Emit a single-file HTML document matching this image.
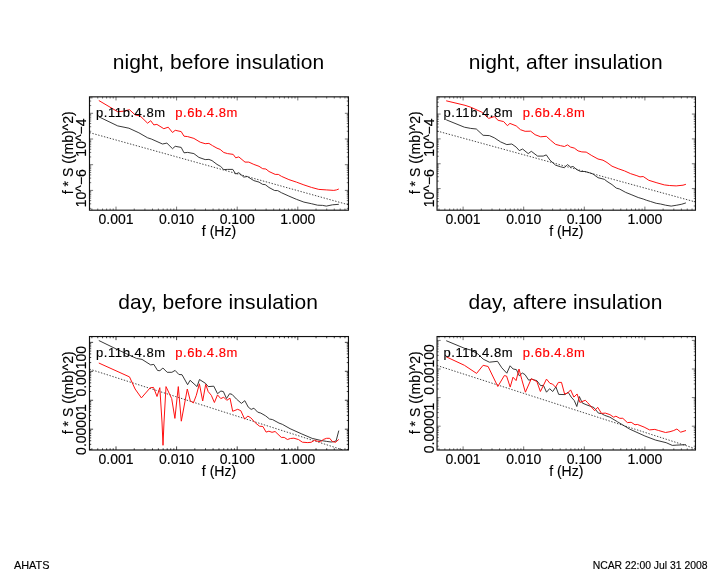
<!DOCTYPE html>
<html><head><meta charset="utf-8"><title>AHATS spectra</title>
<style>
html,body{margin:0;padding:0;background:#fff;}
body{width:722px;height:572px;overflow:hidden;font-family:"Liberation Sans", sans-serif;}
svg{display:block;font-family:"Liberation Sans", sans-serif;will-change:transform;}
text{fill:#000;font-family:"Liberation Sans", sans-serif;stroke:#000;stroke-width:0.15px;}
.t{stroke:none;}
.r{fill:#ff0000;stroke:#ff0000;}
</style></head>
<body>
<svg width="722" height="572" viewBox="0 0 722 572">
<rect width="722" height="572" fill="#fff"/>
<text x="218.47" y="69.30" font-size="21" class="t" text-anchor="middle">night, before insulation</text>
<path d="M89.50 132.60 L348.50 204.80" fill="none" stroke="#333" stroke-linejoin="round" stroke-dasharray="1.4 1.6" stroke-width="0.9"/>
<path d="M98.80 116.80 L117.70 125.90 L128.90 128.20 L138.90 132.80 L147.60 137.80 L151.30 139.00 L162.50 144.00 L166.90 143.10 L172.50 148.70 L175.20 146.30 L181.20 147.40 L184.00 152.80 L187.70 152.40 L193.90 153.60 L198.90 157.40 L205.20 159.60 L208.90 159.40 L212.00 160.60 L217.00 164.40 L220.70 166.50 L223.80 169.60 L227.60 169.40 L232.80 169.40 L235.70 174.00 L238.80 172.70 L243.80 177.10 L247.30 176.50 L253.80 180.60 L259.00 182.10 L262.70 184.40 L265.20 184.60 L269.00 187.50 L274.60 190.50 L277.70 190.60 L281.40 192.70 L288.90 196.10 L296.40 199.30 L303.90 202.10 L311.40 203.70 L317.60 205.20 L322.60 205.40 L326.30 206.10 L332.50 204.80 L338.80 204.30" fill="none" stroke="#222" stroke-linejoin="round" stroke-width="0.9"/>
<path d="M98.80 100.50 L117.70 111.70 L123.30 111.20 L129.50 109.70 L135.10 114.90 L140.10 115.90 L147.60 123.20 L150.70 120.70 L153.80 124.90 L156.90 124.40 L163.80 128.70 L168.20 127.20 L172.50 132.50 L175.20 130.30 L181.20 131.60 L184.00 136.20 L187.70 136.60 L193.90 138.40 L200.20 142.20 L205.20 143.70 L208.90 143.40 L212.60 145.70 L217.00 148.20 L220.10 149.40 L223.80 152.50 L227.60 153.60 L233.20 154.40 L235.70 157.80 L238.80 156.90 L245.00 162.10 L248.80 162.10 L253.80 164.40 L259.00 166.30 L262.70 168.70 L265.90 169.00 L269.00 171.50 L275.20 174.40 L278.30 174.40 L281.40 176.30 L288.90 179.60 L296.40 182.10 L303.90 184.90 L311.40 187.40 L318.80 189.40 L326.30 189.90 L333.80 190.40 L336.50 189.90 L338.80 189.00" fill="none" stroke="#ff1010" stroke-linejoin="round" stroke-width="1"/>
<rect x="89.5" y="96.85" width="258.95" height="113.35" fill="none" stroke="#111" stroke-width="1.15"/>
<path d="M91.88 210.2 v-1.7 M91.88 96.85 v1.7 M97.76 210.2 v-1.7 M97.76 96.85 v1.7 M102.56 210.2 v-1.7 M102.56 96.85 v1.7 M106.61 210.2 v-1.7 M106.61 96.85 v1.7 M110.13 210.2 v-1.7 M110.13 96.85 v1.7 M113.23 210.2 v-1.7 M113.23 96.85 v1.7 M116.00 210.2 v-3.6 M116.00 96.85 v3.6 M134.24 210.2 v-1.7 M134.24 96.85 v1.7 M144.91 210.2 v-1.7 M144.91 96.85 v1.7 M152.48 210.2 v-1.7 M152.48 96.85 v1.7 M158.36 210.2 v-1.7 M158.36 96.85 v1.7 M163.16 210.2 v-1.7 M163.16 96.85 v1.7 M167.21 210.2 v-1.7 M167.21 96.85 v1.7 M170.73 210.2 v-1.7 M170.73 96.85 v1.7 M173.83 210.2 v-1.7 M173.83 96.85 v1.7 M176.60 210.2 v-3.6 M176.60 96.85 v3.6 M194.84 210.2 v-1.7 M194.84 96.85 v1.7 M205.51 210.2 v-1.7 M205.51 96.85 v1.7 M213.08 210.2 v-1.7 M213.08 96.85 v1.7 M218.96 210.2 v-1.7 M218.96 96.85 v1.7 M223.76 210.2 v-1.7 M223.76 96.85 v1.7 M227.81 210.2 v-1.7 M227.81 96.85 v1.7 M231.33 210.2 v-1.7 M231.33 96.85 v1.7 M234.43 210.2 v-1.7 M234.43 96.85 v1.7 M237.20 210.2 v-3.6 M237.20 96.85 v3.6 M255.44 210.2 v-1.7 M255.44 96.85 v1.7 M266.11 210.2 v-1.7 M266.11 96.85 v1.7 M273.68 210.2 v-1.7 M273.68 96.85 v1.7 M279.56 210.2 v-1.7 M279.56 96.85 v1.7 M284.36 210.2 v-1.7 M284.36 96.85 v1.7 M288.41 210.2 v-1.7 M288.41 96.85 v1.7 M291.93 210.2 v-1.7 M291.93 96.85 v1.7 M295.03 210.2 v-1.7 M295.03 96.85 v1.7 M297.80 210.2 v-3.6 M297.80 96.85 v3.6 M316.04 210.2 v-1.7 M316.04 96.85 v1.7 M326.71 210.2 v-1.7 M326.71 96.85 v1.7 M334.28 210.2 v-1.7 M334.28 96.85 v1.7 M340.16 210.2 v-1.7 M340.16 96.85 v1.7 M344.96 210.2 v-1.7 M344.96 96.85 v1.7 M89.5 208.36 h1.7 M348.45 208.36 h-1.7 M89.5 203.84 h1.7 M348.45 203.84 h-1.7 M89.5 200.63 h1.7 M348.45 200.63 h-1.7 M89.5 198.14 h1.7 M348.45 198.14 h-1.7 M89.5 196.10 h1.7 M348.45 196.10 h-1.7 M89.5 194.38 h1.7 M348.45 194.38 h-1.7 M89.5 192.89 h1.7 M348.45 192.89 h-1.7 M89.5 191.58 h1.7 M348.45 191.58 h-1.7 M89.5 190.40 h3.6 M348.45 190.40 h-3.6 M89.5 182.66 h1.7 M348.45 182.66 h-1.7 M89.5 178.14 h1.7 M348.45 178.14 h-1.7 M89.5 174.93 h1.7 M348.45 174.93 h-1.7 M89.5 172.44 h1.7 M348.45 172.44 h-1.7 M89.5 170.40 h1.7 M348.45 170.40 h-1.7 M89.5 168.68 h1.7 M348.45 168.68 h-1.7 M89.5 167.19 h1.7 M348.45 167.19 h-1.7 M89.5 165.88 h1.7 M348.45 165.88 h-1.7 M89.5 164.70 h3.6 M348.45 164.70 h-3.6 M89.5 156.96 h1.7 M348.45 156.96 h-1.7 M89.5 152.44 h1.7 M348.45 152.44 h-1.7 M89.5 149.23 h1.7 M348.45 149.23 h-1.7 M89.5 146.74 h1.7 M348.45 146.74 h-1.7 M89.5 144.70 h1.7 M348.45 144.70 h-1.7 M89.5 142.98 h1.7 M348.45 142.98 h-1.7 M89.5 141.49 h1.7 M348.45 141.49 h-1.7 M89.5 140.18 h1.7 M348.45 140.18 h-1.7 M89.5 139.00 h3.6 M348.45 139.00 h-3.6 M89.5 131.26 h1.7 M348.45 131.26 h-1.7 M89.5 126.74 h1.7 M348.45 126.74 h-1.7 M89.5 123.53 h1.7 M348.45 123.53 h-1.7 M89.5 121.04 h1.7 M348.45 121.04 h-1.7 M89.5 119.00 h1.7 M348.45 119.00 h-1.7 M89.5 117.28 h1.7 M348.45 117.28 h-1.7 M89.5 115.79 h1.7 M348.45 115.79 h-1.7 M89.5 114.48 h1.7 M348.45 114.48 h-1.7 M89.5 113.30 h3.6 M348.45 113.30 h-3.6 M89.5 105.56 h1.7 M348.45 105.56 h-1.7 M89.5 101.04 h1.7 M348.45 101.04 h-1.7 M89.5 97.83 h1.7 M348.45 97.83 h-1.7" fill="none" stroke="#000" stroke-width="0.55"/>
<text x="116.00" y="224.20" font-size="14" text-anchor="middle">0.001</text>
<text x="176.60" y="224.20" font-size="14" text-anchor="middle">0.010</text>
<text x="237.20" y="224.20" font-size="14" text-anchor="middle">0.100</text>
<text x="297.80" y="224.20" font-size="14" text-anchor="middle">1.000</text>
<text x="218.97" y="235.80" font-size="14" text-anchor="middle">f (Hz)</text>
<text transform="translate(86.40 137.60) rotate(-90)" font-size="14" text-anchor="middle">10^−4</text>
<text transform="translate(86.40 188.20) rotate(-90)" font-size="14" text-anchor="middle">10^−6</text>
<text transform="translate(72.90 152.80) rotate(-90)" font-size="14" text-anchor="middle">f * S ((mb)^2)</text>
<text x="96.10" y="116.80" font-size="13" letter-spacing="0.55">p.11b.4.8m</text>
<text x="175.20" y="116.80" font-size="13" letter-spacing="0.55" class="r">p.6b.4.8m</text>
<text x="565.75" y="69.30" font-size="21" class="t" text-anchor="middle">night, after insulation</text>
<path d="M437.10 131.00 L695.90 202.10" fill="none" stroke="#333" stroke-linejoin="round" stroke-dasharray="1.4 1.6" stroke-width="0.9"/>
<path d="M446.20 119.80 L464.40 127.20 L470.70 128.40 L476.30 129.00 L483.10 135.30 L489.40 135.60 L494.30 137.80 L500.60 141.90 L506.80 144.60 L511.80 144.00 L516.20 147.10 L519.30 150.60 L522.60 149.00 L528.20 153.60 L531.30 151.30 L537.60 156.10 L543.20 156.10 L546.30 154.90 L550.00 160.20 L555.60 165.20 L560.60 166.80 L564.40 167.70 L567.50 164.60 L570.60 167.10 L573.10 166.50 L576.80 169.60 L580.60 171.50 L584.90 171.50 L589.30 172.70 L593.00 174.00 L598.00 177.70 L604.30 179.30 L607.00 181.40 L612.00 184.60 L616.30 188.10 L619.50 189.00 L625.70 192.40 L631.90 194.90 L638.20 197.50 L643.20 199.00 L646.30 200.20 L650.60 201.50 L656.20 203.30 L660.60 204.00 L665.60 205.20 L671.20 206.10 L676.80 205.20 L681.80 204.20 L685.90 202.90" fill="none" stroke="#222" stroke-linejoin="round" stroke-width="0.9"/>
<path d="M446.20 100.80 L465.00 105.30 L470.70 107.20 L481.90 112.20 L488.70 118.40 L494.30 116.60 L498.10 120.30 L503.70 121.60 L507.40 125.70 L509.90 123.40 L516.20 125.90 L520.50 129.70 L525.10 131.30 L530.70 131.20 L535.10 134.70 L540.70 136.80 L546.30 136.30 L550.70 140.30 L555.60 144.40 L560.60 145.70 L564.40 146.50 L567.50 144.90 L570.60 147.10 L574.30 148.10 L578.10 150.90 L581.80 151.90 L586.20 152.10 L591.80 155.60 L598.00 159.00 L603.00 160.20 L607.00 162.50 L612.00 166.20 L618.20 168.70 L624.50 170.90 L630.70 173.70 L636.90 175.70 L640.00 176.90 L643.20 176.50 L648.80 180.30 L656.90 182.80 L664.30 184.90 L669.30 185.50 L676.20 185.90 L683.00 185.20 L685.90 184.30" fill="none" stroke="#ff1010" stroke-linejoin="round" stroke-width="1"/>
<rect x="437.05" y="96.85" width="258.40000000000003" height="113.35" fill="none" stroke="#111" stroke-width="1.15"/>
<path d="M438.98 210.2 v-1.7 M438.98 96.85 v1.7 M444.86 210.2 v-1.7 M444.86 96.85 v1.7 M449.66 210.2 v-1.7 M449.66 96.85 v1.7 M453.71 210.2 v-1.7 M453.71 96.85 v1.7 M457.23 210.2 v-1.7 M457.23 96.85 v1.7 M460.33 210.2 v-1.7 M460.33 96.85 v1.7 M463.10 210.2 v-3.6 M463.10 96.85 v3.6 M481.34 210.2 v-1.7 M481.34 96.85 v1.7 M492.01 210.2 v-1.7 M492.01 96.85 v1.7 M499.58 210.2 v-1.7 M499.58 96.85 v1.7 M505.46 210.2 v-1.7 M505.46 96.85 v1.7 M510.26 210.2 v-1.7 M510.26 96.85 v1.7 M514.31 210.2 v-1.7 M514.31 96.85 v1.7 M517.83 210.2 v-1.7 M517.83 96.85 v1.7 M520.93 210.2 v-1.7 M520.93 96.85 v1.7 M523.70 210.2 v-3.6 M523.70 96.85 v3.6 M541.94 210.2 v-1.7 M541.94 96.85 v1.7 M552.61 210.2 v-1.7 M552.61 96.85 v1.7 M560.18 210.2 v-1.7 M560.18 96.85 v1.7 M566.06 210.2 v-1.7 M566.06 96.85 v1.7 M570.86 210.2 v-1.7 M570.86 96.85 v1.7 M574.91 210.2 v-1.7 M574.91 96.85 v1.7 M578.43 210.2 v-1.7 M578.43 96.85 v1.7 M581.53 210.2 v-1.7 M581.53 96.85 v1.7 M584.30 210.2 v-3.6 M584.30 96.85 v3.6 M602.54 210.2 v-1.7 M602.54 96.85 v1.7 M613.21 210.2 v-1.7 M613.21 96.85 v1.7 M620.78 210.2 v-1.7 M620.78 96.85 v1.7 M626.66 210.2 v-1.7 M626.66 96.85 v1.7 M631.46 210.2 v-1.7 M631.46 96.85 v1.7 M635.51 210.2 v-1.7 M635.51 96.85 v1.7 M639.03 210.2 v-1.7 M639.03 96.85 v1.7 M642.13 210.2 v-1.7 M642.13 96.85 v1.7 M644.90 210.2 v-3.6 M644.90 96.85 v3.6 M663.14 210.2 v-1.7 M663.14 96.85 v1.7 M673.81 210.2 v-1.7 M673.81 96.85 v1.7 M681.38 210.2 v-1.7 M681.38 96.85 v1.7 M687.26 210.2 v-1.7 M687.26 96.85 v1.7 M692.06 210.2 v-1.7 M692.06 96.85 v1.7 M437.05 205.97 h1.7 M695.45 205.97 h-1.7 M437.05 201.59 h1.7 M695.45 201.59 h-1.7 M437.05 198.49 h1.7 M695.45 198.49 h-1.7 M437.05 196.08 h1.7 M695.45 196.08 h-1.7 M437.05 194.11 h1.7 M695.45 194.11 h-1.7 M437.05 192.45 h1.7 M695.45 192.45 h-1.7 M437.05 191.01 h1.7 M695.45 191.01 h-1.7 M437.05 189.74 h1.7 M695.45 189.74 h-1.7 M437.05 188.60 h3.6 M695.45 188.60 h-3.6 M437.05 181.12 h1.7 M695.45 181.12 h-1.7 M437.05 176.74 h1.7 M695.45 176.74 h-1.7 M437.05 173.64 h1.7 M695.45 173.64 h-1.7 M437.05 171.23 h1.7 M695.45 171.23 h-1.7 M437.05 169.26 h1.7 M695.45 169.26 h-1.7 M437.05 167.60 h1.7 M695.45 167.60 h-1.7 M437.05 166.16 h1.7 M695.45 166.16 h-1.7 M437.05 164.89 h1.7 M695.45 164.89 h-1.7 M437.05 163.75 h3.6 M695.45 163.75 h-3.6 M437.05 156.27 h1.7 M695.45 156.27 h-1.7 M437.05 151.89 h1.7 M695.45 151.89 h-1.7 M437.05 148.79 h1.7 M695.45 148.79 h-1.7 M437.05 146.38 h1.7 M695.45 146.38 h-1.7 M437.05 144.41 h1.7 M695.45 144.41 h-1.7 M437.05 142.75 h1.7 M695.45 142.75 h-1.7 M437.05 141.31 h1.7 M695.45 141.31 h-1.7 M437.05 140.04 h1.7 M695.45 140.04 h-1.7 M437.05 138.90 h3.6 M695.45 138.90 h-3.6 M437.05 131.42 h1.7 M695.45 131.42 h-1.7 M437.05 127.04 h1.7 M695.45 127.04 h-1.7 M437.05 123.94 h1.7 M695.45 123.94 h-1.7 M437.05 121.53 h1.7 M695.45 121.53 h-1.7 M437.05 119.56 h1.7 M695.45 119.56 h-1.7 M437.05 117.90 h1.7 M695.45 117.90 h-1.7 M437.05 116.46 h1.7 M695.45 116.46 h-1.7 M437.05 115.19 h1.7 M695.45 115.19 h-1.7 M437.05 114.05 h3.6 M695.45 114.05 h-3.6 M437.05 106.57 h1.7 M695.45 106.57 h-1.7 M437.05 102.19 h1.7 M695.45 102.19 h-1.7 M437.05 99.09 h1.7 M695.45 99.09 h-1.7" fill="none" stroke="#000" stroke-width="0.55"/>
<text x="463.10" y="224.20" font-size="14" text-anchor="middle">0.001</text>
<text x="523.70" y="224.20" font-size="14" text-anchor="middle">0.010</text>
<text x="584.30" y="224.20" font-size="14" text-anchor="middle">0.100</text>
<text x="644.90" y="224.20" font-size="14" text-anchor="middle">1.000</text>
<text x="566.25" y="235.80" font-size="14" text-anchor="middle">f (Hz)</text>
<text transform="translate(433.50 137.60) rotate(-90)" font-size="14" text-anchor="middle">10^−4</text>
<text transform="translate(433.50 188.20) rotate(-90)" font-size="14" text-anchor="middle">10^−6</text>
<text transform="translate(420.40 152.80) rotate(-90)" font-size="14" text-anchor="middle">f * S ((mb)^2)</text>
<text x="443.60" y="116.80" font-size="13" letter-spacing="0.55">p.11b.4.8m</text>
<text x="522.70" y="116.80" font-size="13" letter-spacing="0.55" class="r">p.6b.4.8m</text>
<text x="218.17" y="309.30" font-size="21" class="t" text-anchor="middle" letter-spacing="0.08">day, before insulation</text>
<path d="M89.50 369.10 L343.70 450.20" fill="none" stroke="#333" stroke-linejoin="round" stroke-dasharray="1.4 1.6" stroke-width="0.9"/>
<path d="M98.80 340.50 L117.70 349.70 L136.40 358.40 L142.00 359.40 L150.70 364.90 L153.80 364.40 L157.60 370.50 L159.90 370.70 L162.90 368.00 L167.20 372.30 L171.90 372.30 L175.10 370.40 L178.90 374.50 L182.00 374.70 L187.60 384.70 L190.10 380.30 L197.00 386.60 L199.50 379.50 L205.70 383.50 L208.20 386.60 L213.80 386.20 L217.50 393.70 L220.90 391.00 L223.40 391.60 L226.50 398.50 L229.60 393.70 L232.10 394.40 L236.50 399.10 L241.40 403.40 L244.80 400.70 L248.30 407.20 L251.20 409.40 L253.90 408.20 L257.60 412.10 L260.80 413.10 L265.70 415.90 L269.50 419.00 L272.60 419.60 L279.00 423.10 L282.30 424.30 L290.10 428.70 L301.20 433.70 L312.20 438.40 L321.10 440.50 L326.60 441.40 L331.10 442.00 L333.80 441.70 L336.10 440.90 L338.80 430.60" fill="none" stroke="#222" stroke-linejoin="round" stroke-width="0.9"/>
<path d="M98.80 363.00 L129.50 376.90 L135.10 389.00 L141.40 397.90 L150.20 387.80 L153.50 387.40 L157.00 396.50 L159.80 387.70 L162.00 422.00 L163.00 445.30 L164.00 422.00 L166.00 386.60 L171.70 398.60 L174.90 418.40 L178.30 386.60 L181.30 421.20 L187.30 389.00 L190.30 400.80 L193.40 402.90 L196.30 395.30 L199.40 383.80 L202.70 401.00 L205.70 384.40 L208.20 391.60 L211.30 395.30 L214.40 402.50 L217.50 394.90 L220.80 398.60 L223.70 397.20 L226.80 400.30 L230.00 398.20 L232.70 411.30 L237.70 409.30 L240.80 410.70 L244.60 419.00 L247.90 416.10 L250.80 417.80 L255.20 422.70 L259.50 426.20 L262.90 426.50 L266.10 432.10 L268.90 431.20 L272.00 432.30 L275.10 431.50 L281.30 437.40 L284.20 437.40 L287.40 439.50 L290.40 438.50 L293.90 438.20 L298.60 439.60 L302.40 442.20 L307.80 442.60 L311.10 442.30 L314.50 440.30 L317.20 441.20 L320.60 441.70 L323.30 439.50 L326.60 438.30 L329.70 438.30 L332.20 441.40 L335.50 442.30 L338.80 439.40" fill="none" stroke="#ff1010" stroke-linejoin="round" stroke-width="1"/>
<rect x="89.5" y="336.55" width="258.95" height="113.44999999999999" fill="none" stroke="#111" stroke-width="1.15"/>
<path d="M91.88 450.0 v-1.7 M91.88 336.55 v1.7 M97.76 450.0 v-1.7 M97.76 336.55 v1.7 M102.56 450.0 v-1.7 M102.56 336.55 v1.7 M106.61 450.0 v-1.7 M106.61 336.55 v1.7 M110.13 450.0 v-1.7 M110.13 336.55 v1.7 M113.23 450.0 v-1.7 M113.23 336.55 v1.7 M116.00 450.0 v-3.6 M116.00 336.55 v3.6 M134.24 450.0 v-1.7 M134.24 336.55 v1.7 M144.91 450.0 v-1.7 M144.91 336.55 v1.7 M152.48 450.0 v-1.7 M152.48 336.55 v1.7 M158.36 450.0 v-1.7 M158.36 336.55 v1.7 M163.16 450.0 v-1.7 M163.16 336.55 v1.7 M167.21 450.0 v-1.7 M167.21 336.55 v1.7 M170.73 450.0 v-1.7 M170.73 336.55 v1.7 M173.83 450.0 v-1.7 M173.83 336.55 v1.7 M176.60 450.0 v-3.6 M176.60 336.55 v3.6 M194.84 450.0 v-1.7 M194.84 336.55 v1.7 M205.51 450.0 v-1.7 M205.51 336.55 v1.7 M213.08 450.0 v-1.7 M213.08 336.55 v1.7 M218.96 450.0 v-1.7 M218.96 336.55 v1.7 M223.76 450.0 v-1.7 M223.76 336.55 v1.7 M227.81 450.0 v-1.7 M227.81 336.55 v1.7 M231.33 450.0 v-1.7 M231.33 336.55 v1.7 M234.43 450.0 v-1.7 M234.43 336.55 v1.7 M237.20 450.0 v-3.6 M237.20 336.55 v3.6 M255.44 450.0 v-1.7 M255.44 336.55 v1.7 M266.11 450.0 v-1.7 M266.11 336.55 v1.7 M273.68 450.0 v-1.7 M273.68 336.55 v1.7 M279.56 450.0 v-1.7 M279.56 336.55 v1.7 M284.36 450.0 v-1.7 M284.36 336.55 v1.7 M288.41 450.0 v-1.7 M288.41 336.55 v1.7 M291.93 450.0 v-1.7 M291.93 336.55 v1.7 M295.03 450.0 v-1.7 M295.03 336.55 v1.7 M297.80 450.0 v-3.6 M297.80 336.55 v3.6 M316.04 450.0 v-1.7 M316.04 336.55 v1.7 M326.71 450.0 v-1.7 M326.71 336.55 v1.7 M334.28 450.0 v-1.7 M334.28 336.55 v1.7 M340.16 450.0 v-1.7 M340.16 336.55 v1.7 M344.96 450.0 v-1.7 M344.96 336.55 v1.7 M89.5 449.44 h1.7 M348.45 449.44 h-1.7 M89.5 444.34 h1.7 M348.45 444.34 h-1.7 M89.5 440.72 h1.7 M348.45 440.72 h-1.7 M89.5 437.91 h1.7 M348.45 437.91 h-1.7 M89.5 435.62 h1.7 M348.45 435.62 h-1.7 M89.5 433.68 h1.7 M348.45 433.68 h-1.7 M89.5 432.01 h1.7 M348.45 432.01 h-1.7 M89.5 430.52 h1.7 M348.45 430.52 h-1.7 M89.5 429.20 h3.6 M348.45 429.20 h-3.6 M89.5 420.49 h1.7 M348.45 420.49 h-1.7 M89.5 415.39 h1.7 M348.45 415.39 h-1.7 M89.5 411.77 h1.7 M348.45 411.77 h-1.7 M89.5 408.96 h1.7 M348.45 408.96 h-1.7 M89.5 406.67 h1.7 M348.45 406.67 h-1.7 M89.5 404.73 h1.7 M348.45 404.73 h-1.7 M89.5 403.06 h1.7 M348.45 403.06 h-1.7 M89.5 401.57 h1.7 M348.45 401.57 h-1.7 M89.5 400.25 h3.6 M348.45 400.25 h-3.6 M89.5 391.54 h1.7 M348.45 391.54 h-1.7 M89.5 386.44 h1.7 M348.45 386.44 h-1.7 M89.5 382.82 h1.7 M348.45 382.82 h-1.7 M89.5 380.01 h1.7 M348.45 380.01 h-1.7 M89.5 377.72 h1.7 M348.45 377.72 h-1.7 M89.5 375.78 h1.7 M348.45 375.78 h-1.7 M89.5 374.11 h1.7 M348.45 374.11 h-1.7 M89.5 372.62 h1.7 M348.45 372.62 h-1.7 M89.5 371.30 h3.6 M348.45 371.30 h-3.6 M89.5 362.59 h1.7 M348.45 362.59 h-1.7 M89.5 357.49 h1.7 M348.45 357.49 h-1.7 M89.5 353.87 h1.7 M348.45 353.87 h-1.7 M89.5 351.06 h1.7 M348.45 351.06 h-1.7 M89.5 348.77 h1.7 M348.45 348.77 h-1.7 M89.5 346.83 h1.7 M348.45 346.83 h-1.7 M89.5 345.16 h1.7 M348.45 345.16 h-1.7 M89.5 343.67 h1.7 M348.45 343.67 h-1.7 M89.5 342.35 h3.6 M348.45 342.35 h-3.6" fill="none" stroke="#000" stroke-width="0.75"/>
<text x="116.00" y="463.60" font-size="14" text-anchor="middle">0.001</text>
<text x="176.60" y="463.60" font-size="14" text-anchor="middle">0.010</text>
<text x="237.20" y="463.60" font-size="14" text-anchor="middle">0.100</text>
<text x="297.80" y="463.60" font-size="14" text-anchor="middle">1.000</text>
<text x="218.97" y="475.80" font-size="14" text-anchor="middle">f (Hz)</text>
<text transform="translate(86.40 371.30) rotate(-90)" font-size="14" text-anchor="middle">0.00100</text>
<text transform="translate(86.40 429.60) rotate(-90)" font-size="14" text-anchor="middle">0.00001</text>
<text transform="translate(72.90 392.80) rotate(-90)" font-size="14" text-anchor="middle">f * S ((mb)^2)</text>
<text x="96.10" y="356.80" font-size="13" letter-spacing="0.55">p.11b.4.8m</text>
<text x="175.20" y="356.80" font-size="13" letter-spacing="0.55" class="r">p.6b.4.8m</text>
<text x="565.45" y="309.30" font-size="21" class="t" text-anchor="middle" letter-spacing="0.08">day, aftere insulation</text>
<path d="M437.10 365.50 L695.90 448.80" fill="none" stroke="#333" stroke-linejoin="round" stroke-dasharray="1.4 1.6" stroke-width="0.9"/>
<path d="M446.20 340.70 L465.00 348.50 L470.70 350.00 L478.10 354.10 L483.10 359.10 L489.40 362.20 L497.50 361.30 L501.80 367.80 L506.80 373.20 L510.10 365.80 L513.10 369.00 L516.40 369.60 L519.30 375.80 L522.30 373.00 L525.00 374.60 L528.80 380.30 L531.30 379.10 L536.90 380.70 L540.70 385.70 L543.40 385.30 L546.50 392.20 L549.60 388.70 L552.70 391.50 L555.90 386.90 L558.70 394.40 L565.00 394.60 L568.10 392.20 L571.20 397.10 L574.30 400.60 L576.80 406.50 L579.30 396.50 L582.40 403.10 L587.00 405.00 L593.90 407.50 L598.40 413.10 L601.50 413.60 L604.50 415.30 L609.90 417.20 L617.50 421.80 L629.70 429.10 L644.90 436.00 L655.60 440.10 L666.20 442.70 L672.30 445.40 L676.90 445.10 L686.00 444.70" fill="none" stroke="#222" stroke-linejoin="round" stroke-width="0.9"/>
<path d="M446.20 356.80 L464.40 365.30 L476.60 373.40 L483.10 365.30 L488.10 366.50 L497.80 386.50 L504.30 375.60 L506.60 376.10 L510.20 387.10 L513.00 377.20 L516.10 380.60 L519.00 369.00 L521.80 379.60 L525.40 392.20 L531.30 378.70 L536.90 381.60 L540.40 391.50 L546.50 379.10 L550.00 383.40 L552.50 384.00 L555.60 387.20 L558.40 382.40 L561.50 382.40 L564.60 394.00 L567.70 393.10 L570.60 389.90 L573.90 397.10 L577.10 394.00 L579.90 402.40 L585.30 400.30 L587.50 402.50 L594.60 410.70 L597.70 407.30 L601.50 413.40 L605.30 413.10 L609.90 414.60 L613.70 417.20 L615.90 416.20 L619.80 418.30 L622.80 418.30 L627.40 422.60 L631.20 422.30 L635.00 424.80 L637.30 424.40 L644.10 427.10 L649.50 429.90 L654.80 429.40 L658.60 430.50 L665.50 432.50 L670.00 431.70 L673.80 430.50 L676.90 429.00 L680.70 432.20 L686.00 430.50" fill="none" stroke="#ff1010" stroke-linejoin="round" stroke-width="1"/>
<rect x="437.05" y="336.55" width="258.40000000000003" height="113.44999999999999" fill="none" stroke="#111" stroke-width="1.15"/>
<path d="M438.98 450.0 v-1.7 M438.98 336.55 v1.7 M444.86 450.0 v-1.7 M444.86 336.55 v1.7 M449.66 450.0 v-1.7 M449.66 336.55 v1.7 M453.71 450.0 v-1.7 M453.71 336.55 v1.7 M457.23 450.0 v-1.7 M457.23 336.55 v1.7 M460.33 450.0 v-1.7 M460.33 336.55 v1.7 M463.10 450.0 v-3.6 M463.10 336.55 v3.6 M481.34 450.0 v-1.7 M481.34 336.55 v1.7 M492.01 450.0 v-1.7 M492.01 336.55 v1.7 M499.58 450.0 v-1.7 M499.58 336.55 v1.7 M505.46 450.0 v-1.7 M505.46 336.55 v1.7 M510.26 450.0 v-1.7 M510.26 336.55 v1.7 M514.31 450.0 v-1.7 M514.31 336.55 v1.7 M517.83 450.0 v-1.7 M517.83 336.55 v1.7 M520.93 450.0 v-1.7 M520.93 336.55 v1.7 M523.70 450.0 v-3.6 M523.70 336.55 v3.6 M541.94 450.0 v-1.7 M541.94 336.55 v1.7 M552.61 450.0 v-1.7 M552.61 336.55 v1.7 M560.18 450.0 v-1.7 M560.18 336.55 v1.7 M566.06 450.0 v-1.7 M566.06 336.55 v1.7 M570.86 450.0 v-1.7 M570.86 336.55 v1.7 M574.91 450.0 v-1.7 M574.91 336.55 v1.7 M578.43 450.0 v-1.7 M578.43 336.55 v1.7 M581.53 450.0 v-1.7 M581.53 336.55 v1.7 M584.30 450.0 v-3.6 M584.30 336.55 v3.6 M602.54 450.0 v-1.7 M602.54 336.55 v1.7 M613.21 450.0 v-1.7 M613.21 336.55 v1.7 M620.78 450.0 v-1.7 M620.78 336.55 v1.7 M626.66 450.0 v-1.7 M626.66 336.55 v1.7 M631.46 450.0 v-1.7 M631.46 336.55 v1.7 M635.51 450.0 v-1.7 M635.51 336.55 v1.7 M639.03 450.0 v-1.7 M639.03 336.55 v1.7 M642.13 450.0 v-1.7 M642.13 336.55 v1.7 M644.90 450.0 v-3.6 M644.90 336.55 v3.6 M663.14 450.0 v-1.7 M663.14 336.55 v1.7 M673.81 450.0 v-1.7 M673.81 336.55 v1.7 M681.38 450.0 v-1.7 M681.38 336.55 v1.7 M687.26 450.0 v-1.7 M687.26 336.55 v1.7 M692.06 450.0 v-1.7 M692.06 336.55 v1.7 M437.05 446.19 h1.7 M695.45 446.19 h-1.7 M437.05 441.15 h1.7 M695.45 441.15 h-1.7 M437.05 437.58 h1.7 M695.45 437.58 h-1.7 M437.05 434.81 h1.7 M695.45 434.81 h-1.7 M437.05 432.54 h1.7 M695.45 432.54 h-1.7 M437.05 430.63 h1.7 M695.45 430.63 h-1.7 M437.05 428.97 h1.7 M695.45 428.97 h-1.7 M437.05 427.51 h1.7 M695.45 427.51 h-1.7 M437.05 426.20 h3.6 M695.45 426.20 h-3.6 M437.05 417.59 h1.7 M695.45 417.59 h-1.7 M437.05 412.55 h1.7 M695.45 412.55 h-1.7 M437.05 408.98 h1.7 M695.45 408.98 h-1.7 M437.05 406.21 h1.7 M695.45 406.21 h-1.7 M437.05 403.94 h1.7 M695.45 403.94 h-1.7 M437.05 402.03 h1.7 M695.45 402.03 h-1.7 M437.05 400.37 h1.7 M695.45 400.37 h-1.7 M437.05 398.91 h1.7 M695.45 398.91 h-1.7 M437.05 397.60 h3.6 M695.45 397.60 h-3.6 M437.05 388.99 h1.7 M695.45 388.99 h-1.7 M437.05 383.95 h1.7 M695.45 383.95 h-1.7 M437.05 380.38 h1.7 M695.45 380.38 h-1.7 M437.05 377.61 h1.7 M695.45 377.61 h-1.7 M437.05 375.34 h1.7 M695.45 375.34 h-1.7 M437.05 373.43 h1.7 M695.45 373.43 h-1.7 M437.05 371.77 h1.7 M695.45 371.77 h-1.7 M437.05 370.31 h1.7 M695.45 370.31 h-1.7 M437.05 369.00 h3.6 M695.45 369.00 h-3.6 M437.05 360.39 h1.7 M695.45 360.39 h-1.7 M437.05 355.35 h1.7 M695.45 355.35 h-1.7 M437.05 351.78 h1.7 M695.45 351.78 h-1.7 M437.05 349.01 h1.7 M695.45 349.01 h-1.7 M437.05 346.74 h1.7 M695.45 346.74 h-1.7 M437.05 344.83 h1.7 M695.45 344.83 h-1.7 M437.05 343.17 h1.7 M695.45 343.17 h-1.7 M437.05 341.71 h1.7 M695.45 341.71 h-1.7 M437.05 340.40 h3.6 M695.45 340.40 h-3.6" fill="none" stroke="#000" stroke-width="0.55"/>
<text x="463.10" y="463.60" font-size="14" text-anchor="middle">0.001</text>
<text x="523.70" y="463.60" font-size="14" text-anchor="middle">0.010</text>
<text x="584.30" y="463.60" font-size="14" text-anchor="middle">0.100</text>
<text x="644.90" y="463.60" font-size="14" text-anchor="middle">1.000</text>
<text x="566.25" y="475.80" font-size="14" text-anchor="middle">f (Hz)</text>
<text transform="translate(433.50 369.50) rotate(-90)" font-size="14" text-anchor="middle">0.00100</text>
<text transform="translate(433.50 428.00) rotate(-90)" font-size="14" text-anchor="middle">0.00001</text>
<text transform="translate(420.40 392.80) rotate(-90)" font-size="14" text-anchor="middle">f * S ((mb)^2)</text>
<text x="443.60" y="356.80" font-size="13" letter-spacing="0.55">p.11b.4.8m</text>
<text x="522.70" y="356.80" font-size="13" letter-spacing="0.55" class="r">p.6b.4.8m</text>
<text x="13.9" y="568.9" font-size="10.9">AHATS</text>
<text x="707.6" y="568.9" font-size="10.4" text-anchor="end">NCAR 22:00 Jul 31 2008</text>
</svg>
</body></html>
